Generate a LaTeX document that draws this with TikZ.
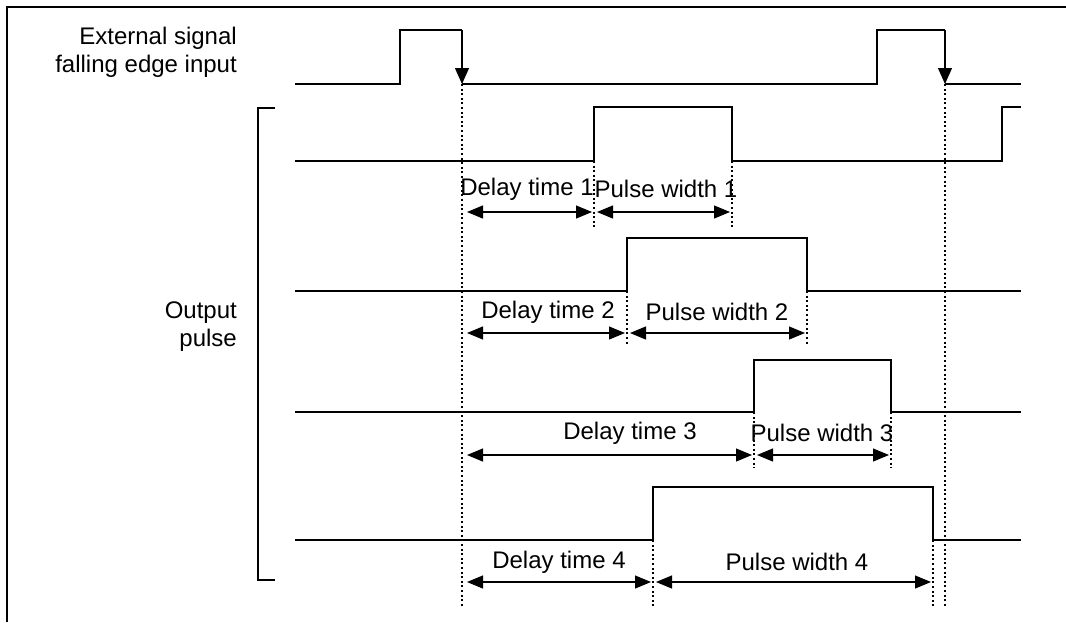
\documentclass[tikz,border=0pt]{standalone}
\usepackage{fontspec}
\setmainfont{Liberation Sans}
\usetikzlibrary{arrows.meta}
\tikzset{
  x=1pt, y=-1pt,
  wave/.style={line width=1.2pt},
  guide/.style={line width=1.2pt, dash pattern=on 2pt off 2.6pt},
  dim/.style={line width=1.1pt, {Triangle[length=16pt,width=13pt]}-{Triangle[length=16pt,width=13pt]}},
  edgearrow/.style={line width=1.2pt, -{Triangle[length=16pt,width=14pt]}},
  lbl/.style={font=\fontsize{24}{28}\selectfont, inner sep=0pt},
  sidelbl/.style={font=\fontsize{24}{28}\selectfont, inner sep=0pt, align=right, anchor=east},
}
\begin{document}
\begin{tikzpicture}
\useasboundingbox (0,0) rectangle (1066,622);
% frame (top and left only)
\draw[line width=2.4pt] (1066,7) -- (7,7) -- (7,622);

% side labels
\node[sidelbl] (extlbl) at (237,52) {External signal\\falling edge input};
\node[sidelbl] (outlbl) at (237,327) {Output\\pulse};
% bracket
\coordinate (bt) at (275,108);
\coordinate (bb) at (275,580);
\draw[line width=1.2pt] (bt) -- (258,108) -- (258,580) -- (bb);

% input signal
\coordinate (i0) at (295,84);
\coordinate (f1) at (462,84);
\coordinate (f2) at (945,84);
\coordinate (iend) at (1021,84);
\draw[wave] (i0) -- (400,84) -- (400,30) -- (462,30);
\draw[edgearrow] (462,30) -- (f1);
\draw[wave] (f1) -- (877,84) -- (877,30) -- (945,30);
\draw[edgearrow] (945,30) -- (f2);
\draw[wave] (f2) -- (iend);

% output 1
\draw[wave] (295,161) -- (594,161) -- (594,107) -- (732,107) -- (732,161) -- (1002,161) -- (1002,107) -- (1021,107);
% output 2
\draw[wave] (295,291) -- (627,291) -- (627,238) -- (807,238) -- (807,291) -- (1021,291);
% output 3
\draw[wave] (295,412) -- (754,412) -- (754,360) -- (891,360) -- (891,412) -- (1021,412);
% output 4
\draw[wave] (295,540) -- (653,540) -- (653,487) -- (933,487) -- (933,540) -- (1021,540);

% guide lines
\coordinate (g0b) at (462,607);
\coordinate (g9b) at (945,607);
\draw[guide] (f1) -- (g0b);
\draw[guide] (f2) -- (g9b);
\draw[guide] (594,161) -- (594,228);
\draw[guide] (732,161) -- (732,228);
\draw[guide] (627,291) -- (627,345);
\draw[guide] (807,291) -- (807,345);
\draw[guide] (754,412) -- (754,468);
\draw[guide] (891,412) -- (891,468);
\draw[guide] (653,540) -- (653,607);
\draw[guide] (933,540) -- (933,607);

% dimension coordinates
\coordinate (a1) at (462,212); \coordinate (b1) at (594,212); \coordinate (c1) at (732,212);
\coordinate (a2) at (462,333); \coordinate (b2) at (627,333); \coordinate (c2) at (807,333);
\coordinate (a3) at (462,455); \coordinate (b3) at (754,455); \coordinate (c3) at (891,455);
\coordinate (a4) at (462,582); \coordinate (b4) at (653,582); \coordinate (c4) at (933,582);

\draw[dim, shorten <=5pt, shorten >=2pt] (a1) -- (b1);
\draw[dim, shorten <=3pt, shorten >=2pt] (b1) -- (c1);
\draw[dim, shorten <=5pt, shorten >=2pt] (a2) -- (b2);
\draw[dim, shorten <=3pt, shorten >=2pt] (b2) -- (c2);
\draw[dim, shorten <=5pt, shorten >=2pt] (a3) -- (b3);
\draw[dim, shorten <=3pt, shorten >=2pt] (b3) -- (c3);
\draw[dim, shorten <=5pt, shorten >=2pt] (a4) -- (b4);
\draw[dim, shorten <=3pt, shorten >=2pt] (b4) -- (c4);

% labels
\node[lbl] (d1) at (527,189) {Delay time 1};
\node[lbl] (p1) at (666,189) {Pulse width 1};
\node[lbl] (d2) at (548,312) {Delay time 2};
\node[lbl] (p2) at (717,312) {Pulse width 2};
\node[lbl] (d3) at (630,433) {Delay time 3};
\node[lbl] (p3) at (822,433) {Pulse width 3};
\node[lbl] (d4) at (559,562) {Delay time 4};
\node[lbl] (p4) at (797,562) {Pulse width 4};
\end{tikzpicture}
\end{document}
